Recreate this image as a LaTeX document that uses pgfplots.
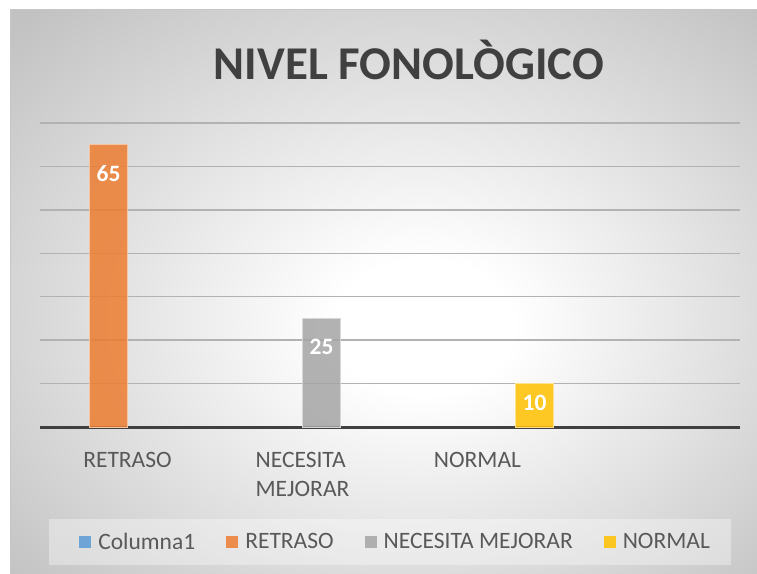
\documentclass[border=0pt]{standalone}
\usepackage{pgfplots}
\pgfplotsset{compat=1.18}
\usepackage{fontspec}
\setmainfont{Carlito}
\definecolor{cBlue}{HTML}{5B9BD5}
\definecolor{cOrange}{HTML}{ED7D31}
\definecolor{cGray}{HTML}{A5A5A5}
\definecolor{cYellow}{HTML}{FFC000}
\definecolor{txt}{HTML}{595959}
\definecolor{ttl}{HTML}{404040}
\definecolor{axisc}{HTML}{404040}
\definecolor{gridc}{HTML}{B2B2B2}
\definecolor{bgout}{HTML}{C2C2C2}
\pgfdeclareradialshading{bgshade}{\pgfpoint{3bp}{-3.5bp}}{color(0bp)=(white); color(6bp)=(white); color(36bp)=(bgout); color(60bp)=(bgout)}
\begin{document}
\begin{tikzpicture}[x=1pt,y=1pt]
\useasboundingbox (0pt,0pt) rectangle (757pt,573pt);
\shade[shading=bgshade] (10pt,0pt) rectangle (757pt,563pt);
\draw[gray!45, line width=1pt] (10.5pt,0pt) -- (10.5pt,563pt) -- (757pt,563pt);
\fill[white, opacity=0.35] (49pt,8pt) rectangle (731pt,54pt);
\node[font=\fontsize{47}{56}\selectfont\bfseries, text=ttl, anchor=base] at (409pt,493pt) {NIVEL FONOLÒGICO};
\begin{axis}[
  at={(40pt,146pt)}, anchor=south west,
  scale only axis, width=700pt, height=304pt,
  xmin=-0.5, xmax=3.5, ymin=0, ymax=70,
  axis lines*=left,
  y axis line style={draw=none},
  x axis line style={line width=3pt, color=axisc},
  major tick length=0pt,
  xtick={0,1,2},
  xticklabels={RETRASO,{NECESITA\\MEJORAR},NORMAL},
  xticklabel style={font=\fontsize{23.5}{29}\selectfont, text=txt, align=left, anchor=north, yshift=-22pt},
  ytick={10,20,30,40,50,60,70},
  yticklabels={},
  ymajorgrids,
  grid style={gridc, line width=1.3pt},
  /pgf/number format/assume math mode=true,
  nodes near coords style={font=\fontsize{23.5}{28}\selectfont\bfseries, text=white, anchor=north, inner sep=0pt, fill opacity=1, text opacity=1},
  legend columns=4,
  legend style={at={(0.508,-0.377)}, anchor=center, draw=none, fill=none,
    font=\fontsize{23.5}{28}\selectfont, text=txt,
    /tikz/every even column/.append style={column sep=29pt}},
  clip=false,
]
\addlegendimage{legend image code/.code={\path[draw=none,fill=none] (0pt,0pt) -- (17pt,0pt); \fill[cBlue, fill opacity=0.85, draw=none] (0pt,-6pt) rectangle (12pt,6pt);}}
\addlegendentry{Columna1}
\addplot[ybar, bar width=38pt, bar shift=0pt, fill=cOrange, fill opacity=0.85, draw=cOrange!45!white, line width=0.8pt,
  nodes near coords, nodes near coords style={yshift=-20pt},
  legend image code/.code={\path[draw=none,fill=none] (0pt,0pt) -- (17pt,0pt); \fill[cOrange, fill opacity=0.85, draw=none] (0pt,-6pt) rectangle (12pt,6pt);}]
  coordinates {(-0.1086,65)};
\addlegendentry{RETRASO}
\addplot[ybar, bar width=38pt, bar shift=0pt, fill=cGray, fill opacity=0.85, draw=cGray!45!white, line width=0.8pt,
  nodes near coords, nodes near coords style={yshift=-20pt},
  legend image code/.code={\path[draw=none,fill=none] (0pt,0pt) -- (17pt,0pt); \fill[cGray, fill opacity=0.85, draw=none] (0pt,-6pt) rectangle (12pt,6pt);}]
  coordinates {(1.1086,25)};
\addlegendentry{NECESITA MEJORAR}
\addplot[ybar, bar width=38pt, bar shift=0pt, fill=cYellow, fill opacity=0.85, draw=cYellow!45!white, line width=0.8pt,
  nodes near coords, nodes near coords style={yshift=-11pt},
  legend image code/.code={\path[draw=none,fill=none] (0pt,0pt) -- (17pt,0pt); \fill[cYellow, fill opacity=0.85, draw=none] (0pt,-6pt) rectangle (12pt,6pt);}]
  coordinates {(2.3257,10)};
\addlegendentry{NORMAL}
\end{axis}
\end{tikzpicture}
\end{document}
